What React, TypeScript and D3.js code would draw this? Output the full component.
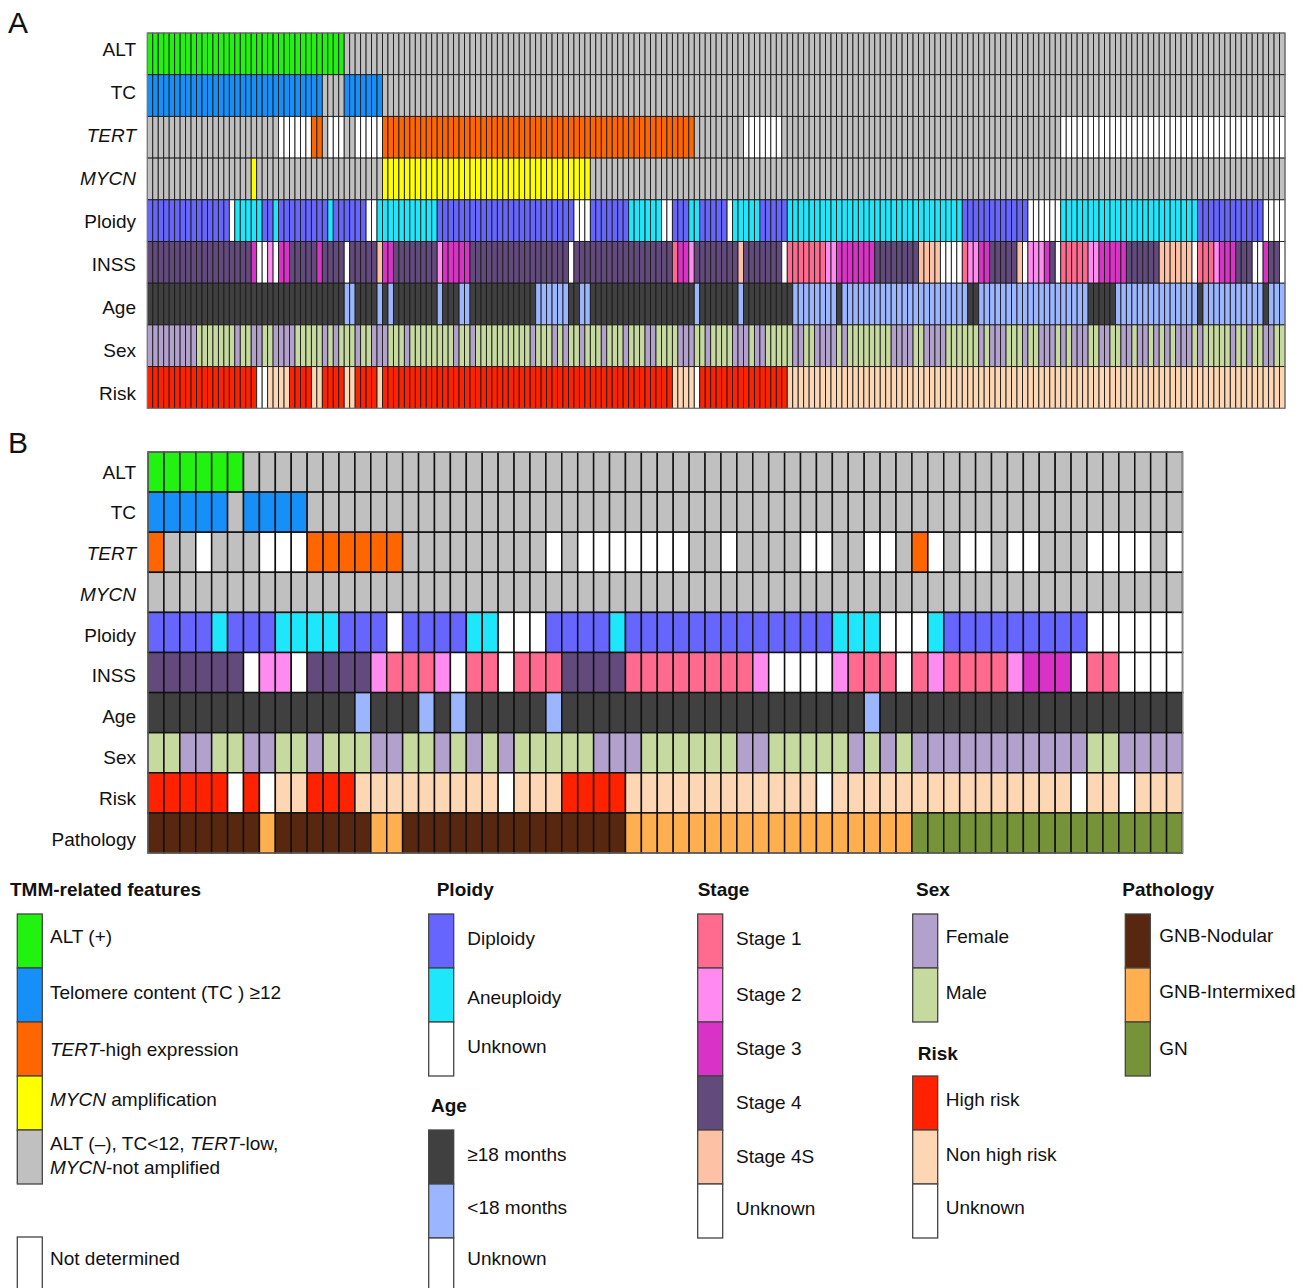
import React from 'react';
import * as d3 from 'd3';

type Run = [string, number];

// ---------- Panel A (208 tumours) ----------
const rowsA = ['ALT', 'TC', 'TERT', 'MYCN', 'Ploidy', 'INSS', 'Age', 'Sex', 'Risk'];

const altA: Run[] = [['P', 36], ['L', 172]];
const tcA: Run[] = [['P', 32], ['L', 4], ['P', 7], ['L', 165]];
const tertA: Run[] = [['L', 24], ['N', 6], ['P', 2], ['L', 1], ['N', 3], ['L', 2], ['N', 5], ['P', 57], ['L', 9], ['N', 7], ['L', 51], ['N', 41]];
const mycnA: Run[] = [['L', 19], ['P', 1], ['L', 23], ['P', 38], ['L', 127]];
const ploidyA: Run[] = [['D', 15], ['U', 1], ['A', 5], ['D', 2], ['A', 1], ['D', 9], ['A', 1], ['D', 6], ['U', 2], ['A', 11], ['D', 25], ['U', 3], ['D', 7], ['A', 6], ['U', 2], ['D', 3], ['A', 2], ['D', 5], ['U', 1], ['A', 5], ['D', 5], ['A', 32], ['D', 12], ['U', 6], ['A', 25], ['D', 12], ['U', 4]];
const inssA: Run[] = [['4', 19], ['3', 1], ['U', 2], ['2', 1], ['U', 1], ['3', 2], ['4', 5], ['3', 1], ['4', 4], ['U', 1], ['4', 5], ['S', 1], ['3', 2], ['4', 8], ['2', 1], ['3', 5], ['4', 18], ['U', 1], ['4', 18], ['1', 1], ['3', 2], ['2', 1], ['4', 8], ['S', 1], ['4', 7], ['U', 1], ['1', 7], ['2', 2], ['3', 7], ['4', 8], ['S', 4], ['U', 4], ['1', 1], ['2', 2], ['3', 2], ['4', 5], ['S', 1], ['U', 1], ['2', 3], ['3', 1], ['4', 1], ['U', 1], ['1', 5], ['2', 2], ['3', 5], ['4', 6], ['S', 6], ['U', 1], ['1', 3], ['2', 1], ['3', 3], ['4', 3], ['U', 2], ['3', 1], ['4', 2], ['U', 1]];
const ageA: Run[] = [['O', 36], ['Y', 2], ['O', 4], ['Y', 1], ['O', 1], ['Y', 1], ['O', 8], ['Y', 1], ['O', 3], ['Y', 2], ['O', 12], ['Y', 6], ['O', 2], ['Y', 2], ['O', 19], ['Y', 1], ['O', 7], ['Y', 1], ['O', 9], ['Y', 8], ['O', 1], ['Y', 23], ['O', 2], ['Y', 20], ['O', 5], ['Y', 15], ['O', 1], ['Y', 11], ['O', 1], ['Y', 3]];
const sexA: Run[] = [['F', 9], ['M', 7], ['F', 1], ['M', 2], ['F', 2], ['M', 2], ['F', 4], ['M', 5], ['F', 1], ['M', 1], ['F', 1], ['M', 3], ['F', 1], ['M', 2], ['F', 3], ['M', 3], ['F', 1], ['M', 8], ['F', 1], ['M', 2], ['F', 1], ['M', 10], ['F', 1], ['M', 3], ['F', 1], ['M', 1], ['F', 1], ['M', 2], ['F', 1], ['M', 3], ['F', 1], ['M', 3], ['F', 1], ['M', 3], ['F', 2], ['M', 4], ['F', 3], ['M', 2], ['F', 1], ['M', 4], ['F', 3], ['M', 1], ['F', 2], ['M', 5], ['F', 2], ['M', 2], ['F', 4], ['M', 1], ['F', 1], ['M', 8], ['F', 4], ['M', 2], ['F', 4], ['M', 6], ['F', 1], ['M', 1], ['F', 3], ['M', 3], ['F', 1], ['M', 2], ['F', 3], ['M', 1], ['F', 1], ['M', 1], ['F', 3], ['M', 2], ['F', 2], ['M', 2], ['F', 2], ['M', 1], ['F', 2], ['M', 1], ['F', 1], ['M', 1], ['F', 1], ['M', 1], ['F', 3], ['M', 1], ['F', 1], ['M', 5], ['F', 1], ['M', 2], ['F', 1], ['M', 2], ['F', 2], ['M', 2]];
const riskA: Run[] = [['H', 20], ['U', 2], ['N', 4], ['H', 4], ['N', 2], ['H', 4], ['N', 2], ['H', 4], ['N', 1], ['H', 53], ['N', 4], ['U', 1], ['H', 16], ['N', 91]];

// ---------- Panel B (65 tumours) ----------
const rowsB = ['ALT', 'TC', 'TERT', 'MYCN', 'Ploidy', 'INSS', 'Age', 'Sex', 'Risk', 'Pathology'];

const altB: Run[] = [['P', 6], ['L', 59]];
const tcB: Run[] = [['P', 5], ['L', 1], ['P', 4], ['L', 55]];
const tertB: Run[] = [['P', 1], ['L', 2], ['N', 1], ['L', 3], ['N', 3], ['P', 6], ['L', 9], ['N', 1], ['L', 1], ['N', 7], ['L', 2], ['N', 1], ['L', 4], ['N', 2], ['L', 2], ['N', 2], ['L', 1], ['P', 1], ['N', 1], ['L', 1], ['N', 2], ['L', 1], ['N', 2], ['L', 3], ['N', 4], ['L', 1], ['N', 1]];
const mycnB: Run[] = [['L', 65]];
const ploidyB: Run[] = [['D', 4], ['A', 1], ['D', 3], ['A', 4], ['D', 3], ['U', 1], ['D', 4], ['A', 2], ['U', 3], ['D', 4], ['A', 1], ['D', 13], ['A', 3], ['U', 3], ['A', 1], ['D', 9], ['U', 6]];
const inssB: Run[] = [['4', 6], ['U', 1], ['2', 2], ['U', 1], ['4', 4], ['2', 1], ['1', 3], ['2', 1], ['U', 1], ['1', 2], ['U', 1], ['1', 3], ['4', 4], ['1', 8], ['2', 1], ['U', 4], ['2', 1], ['1', 3], ['U', 1], ['1', 1], ['2', 1], ['1', 4], ['2', 1], ['3', 3], ['U', 1], ['1', 2], ['U', 4]];
const ageB: Run[] = [['O', 13], ['Y', 1], ['O', 3], ['Y', 1], ['O', 1], ['Y', 1], ['O', 5], ['Y', 1], ['O', 19], ['Y', 1], ['O', 19]];
const sexB: Run[] = [['M', 2], ['F', 2], ['M', 2], ['F', 2], ['M', 2], ['F', 1], ['M', 3], ['F', 2], ['M', 2], ['F', 1], ['M', 1], ['F', 1], ['M', 1], ['F', 1], ['M', 5], ['F', 3], ['M', 6], ['F', 2], ['M', 5], ['F', 1], ['M', 1], ['F', 1], ['M', 1], ['F', 11], ['M', 2], ['F', 4]];
const riskB: Run[] = [['H', 5], ['U', 1], ['H', 1], ['U', 1], ['N', 2], ['H', 3], ['N', 9], ['U', 1], ['N', 3], ['H', 4], ['N', 12], ['U', 1], ['N', 15], ['U', 1], ['N', 2], ['U', 1], ['N', 3]];
const pathB: Run[] = [['n', 7], ['i', 1], ['n', 6], ['i', 2], ['n', 14], ['i', 18], ['g', 17]];

// ---------- colours ----------
const C = {
  gray: '#c0c0c0', white: '#ffffff',
  alt: '#22f20f', tc: '#1690f8', tert: '#ff6600', mycn: '#ffff00',
  dip: '#6666ff', aneu: '#1ee6fb',
  s1: '#ff6a8e', s2: '#ff8af0', s3: '#d932c6', s4: '#624a7c', s4s: '#fdc1a5',
  old: '#404040', young: '#9bb5ff',
  female: '#b2a1cd', male: '#c6d99e',
  high: '#ff2200', non: '#fdd7b4',
  nod: '#58270f', inter: '#ffaf4f', gn: '#769339',
};

const palettes: Record<string, Record<string, string>> = {
  ALT: { P: C.alt, L: C.gray, N: C.white },
  TC: { P: C.tc, L: C.gray, N: C.white },
  TERT: { P: C.tert, L: C.gray, N: C.white },
  MYCN: { P: C.mycn, L: C.gray, N: C.white },
  Ploidy: { D: C.dip, A: C.aneu, U: C.white },
  INSS: { '1': C.s1, '2': C.s2, '3': C.s3, '4': C.s4, S: C.s4s, U: C.white },
  Age: { O: C.old, Y: C.young, U: C.white },
  Sex: { F: C.female, M: C.male },
  Risk: { H: C.high, N: C.non, U: C.white },
  Pathology: { n: C.nod, i: C.inter, g: C.gn },
};

const expand = (runs: Run[]) => runs.flatMap(([c, n]) => Array(n).fill(c) as string[]);

const dataA: Record<string, string[]> = {
  ALT: expand(altA), TC: expand(tcA), TERT: expand(tertA), MYCN: expand(mycnA),
  Ploidy: expand(ploidyA), INSS: expand(inssA), Age: expand(ageA), Sex: expand(sexA), Risk: expand(riskA),
};
const dataB: Record<string, string[]> = {
  ALT: expand(altB), TC: expand(tcB), TERT: expand(tertB), MYCN: expand(mycnB),
  Ploidy: expand(ploidyB), INSS: expand(inssB), Age: expand(ageB), Sex: expand(sexB), Risk: expand(riskB),
  Pathology: expand(pathB),
};

const FONT = '"Liberation Sans", Arial, Helvetica, sans-serif';
const italicRows = new Set(['TERT', 'MYCN']);
const LFS = 19;

function Panel({ rows, data, x0, x1, y0, y1, labelY0, labelY1, stroke, sw }: {
  rows: string[]; data: Record<string, string[]>; x0: number; x1: number; y0: number; y1: number;
  labelY0: number; labelY1: number; stroke: string; sw: number;
}) {
  const n = data[rows[0]].length;
  const x = d3.scaleLinear().domain([0, n]).range([x0, x1]);
  const y = d3.scaleBand().domain(rows).range([y0, y1]);
  const ly = d3.scaleLinear().domain([0, rows.length - 1]).range([labelY0, labelY1]);
  return (
    <g>
      {rows.map((r, ri) => (
        <g key={r}>
          {data[r].map((c, i) => (
            <rect key={i} x={x(i)} y={y(r)} width={x(i + 1) - x(i)} height={y.bandwidth()}
              fill={palettes[r][c]} stroke={stroke} strokeWidth={sw} />
          ))}
          <text x={136} y={ly(ri) + 6.5} textAnchor="end" fontSize={19} fontFamily={FONT}
            fontStyle={italicRows.has(r) ? 'italic' : 'normal'} fill="#111">{r}</text>
        </g>
      ))}
      <rect x={x0} y={y0} width={x1 - x0} height={y1 - y0} fill="none" stroke="#888" strokeWidth={1} />
    </g>
  );
}

type LegendItem = { color: string; label: React.ReactNode; ty: number };

function Legend({ title, tx, ty, sx, top, items, lx, h = 54 }: {
  title: string; tx: number; ty: number; sx: number; top: number; items: LegendItem[]; lx: number; h?: number;
}) {
  return (
    <g fontFamily={FONT}>
      {title && <text x={tx} y={ty + 7} fontSize={LFS} fontWeight="bold" fill="#111">{title}</text>}
      {items.map((it, i) => (
        <g key={i}>
          <rect x={sx} y={top + i * h} width={25} height={h} fill={it.color} stroke="#444" strokeWidth={1.3} />
          <text x={lx} y={it.ty + 7} fontSize={LFS} fill="#111">{it.label}</text>
        </g>
      ))}
    </g>
  );
}

export default function App() {
  const it = (s: string) => <tspan fontStyle="italic">{s}</tspan>;
  return (
    <svg width={1308} height={1288} style={{ position: 'absolute', left: 0, top: 0, background: '#fff' }}
      xmlns="http://www.w3.org/2000/svg">
      <rect width={1308} height={1288} fill="#fff" />
      <text x={8} y={33} fontSize={30} fontFamily={FONT} fill="#111">A</text>
      <text x={8} y={453} fontSize={30} fontFamily={FONT} fill="#111">B</text>

      <Panel rows={rowsA} data={dataA} x0={147.3} x1={1285} y0={33} y1={408.3}
        labelY0={49} labelY1={393} stroke="#1a1a1a" sw={0.9} />
      <Panel rows={rowsB} data={dataB} x0={148} x1={1182.5} y0={452} y1={853}
        labelY0={472} labelY1={839} stroke="#111" sw={1.5} />

      <Legend title="TMM-related features" tx={10} ty={889} sx={17.3} top={914} lx={50} items={[
        { color: C.alt, label: 'ALT (+)', ty: 936 },
        { color: C.tc, label: 'Telomere content (TC ) \u226512', ty: 992 },
        { color: C.tert, label: <>{it('TERT')}-high expression</>, ty: 1049 },
        { color: C.mycn, label: <>{it('MYCN')} amplification</>, ty: 1099 },
        { color: C.gray, label: <>{'ALT (\u2013), TC<12, '}{it('TERT')}-low,</>, ty: 1143 },
      ]} />
      <text x={50} y={1166.7 + 7} fontSize={LFS} fontFamily={FONT} fill="#111">{it('MYCN')}-not amplified</text>
      <Legend title="" tx={0} ty={0} sx={17.3} top={1237} lx={50} items={[
        { color: C.white, label: 'Not determined', ty: 1258 },
      ]} />

      <Legend title="Ploidy" tx={436.7} ty={889} sx={428.7} top={914} lx={467.3} items={[
        { color: C.dip, label: 'Diploidy', ty: 938.3 },
        { color: C.aneu, label: 'Aneuploidy', ty: 996.7 },
        { color: C.white, label: 'Unknown', ty: 1045.7 },
      ]} />
      <Legend title="Age" tx={431} ty={1105} sx={428.7} top={1130} lx={467.3} items={[
        { color: C.old, label: '\u226518 months', ty: 1154 },
        { color: C.young, label: '<18 months', ty: 1207.3 },
        { color: C.white, label: 'Unknown', ty: 1258.3 },
      ]} />

      <Legend title="Stage" tx={697.7} ty={889} sx={697.7} top={914} lx={736} items={[
        { color: C.s1, label: 'Stage 1', ty: 938 },
        { color: C.s2, label: 'Stage 2', ty: 993.7 },
        { color: C.s3, label: 'Stage 3', ty: 1047.7 },
        { color: C.s4, label: 'Stage 4', ty: 1101.7 },
        { color: C.s4s, label: 'Stage 4S', ty: 1155.7 },
        { color: C.white, label: 'Unknown', ty: 1207.7 },
      ]} />

      <Legend title="Sex" tx={916} ty={889} sx={912.7} top={914} lx={945.7} items={[
        { color: C.female, label: 'Female', ty: 935.7 },
        { color: C.male, label: 'Male', ty: 991.7 },
      ]} />
      <Legend title="Risk" tx={917.7} ty={1052.7} sx={912.7} top={1076} lx={945.7} items={[
        { color: C.high, label: 'High risk', ty: 1099.3 },
        { color: C.non, label: 'Non high risk', ty: 1154.3 },
        { color: C.white, label: 'Unknown', ty: 1207.3 },
      ]} />

      <Legend title="Pathology" tx={1122.3} ty={889} sx={1125.3} top={914} lx={1159.3} items={[
        { color: C.nod, label: 'GNB-Nodular', ty: 935 },
        { color: C.inter, label: 'GNB-Intermixed', ty: 991 },
        { color: C.gn, label: 'GN', ty: 1048 },
      ]} />
    </svg>
  );
}
